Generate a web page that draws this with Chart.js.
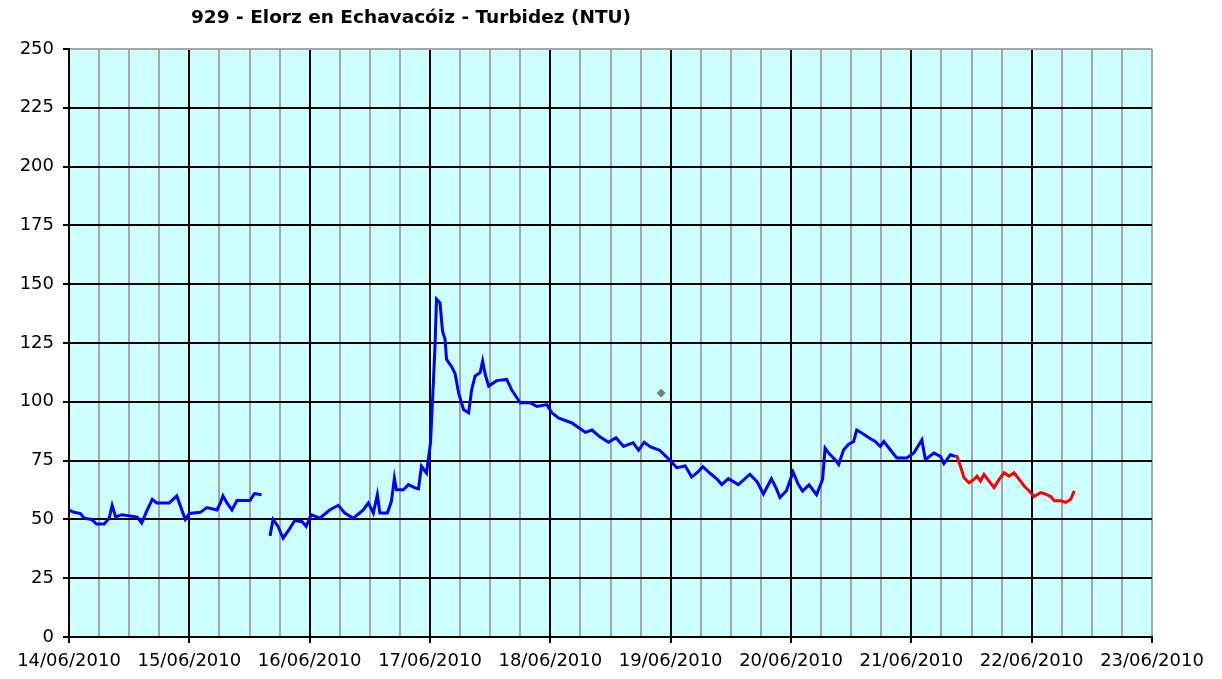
<!DOCTYPE html>
<html>
<head>
<meta charset="utf-8">
<script src="https://cdn.jsdelivr.net/npm/chart.js@4"></script>
<style>
    body { margin: 0; background: #fff; }
    #wrap { position: relative; width: 1222px; height: 679px; }
    #titulo {
        position: absolute; top: 6px; left: 411px; transform: translateX(-50%);
        font: bold 18.5px "DejaVu Sans", sans-serif; color: #000; white-space: nowrap;
    }
</style>
</head>
<body>
<div id="wrap">
    <div id="titulo">929 - Elorz en Echavacóiz - Turbidez (NTU)</div>
    <canvas id="grafico" width="1222" height="679"></canvas>
</div>
<script>
// Etiquetas de día (eje X en horas desde 14/06/2010 00:00)
const dayLabels = ['14/06/2010', '15/06/2010', '16/06/2010', '17/06/2010', '18/06/2010',
                   '19/06/2010', '20/06/2010', '21/06/2010', '22/06/2010', '23/06/2010'];

// Serie validada (azul)
const blueHours = [0, 1, 2.3, 3, 4.5, 5.5, 7, 8, 8.6, 9.3, 10.5, 12, 13.6, 14.5, 15.5, 16.6, 17.5, 20, 21.5, 22.5,
    23.2, 24, 26.2, 27.5, 29.5, 30.2, 30.7, 31.5, 32.5, 33.5, 36.1, 37, 38.4, 39,
    40.1, 40.7, 41.7, 42.7, 44, 45, 46.5, 47.3, 48.3, 50, 52, 53.7, 55, 56.7, 58.7, 59.7,
    60.7, 61.5, 62, 63.5, 64.3, 64.9, 65.3, 66.7, 67.7, 69, 69.7, 70.3, 71.3, 72.1, 72.7, 73, 73.3, 74, 74.5, 75,
    75.3, 76.3, 77, 77.7, 78.7, 79.7, 80.3, 81, 82, 82.5, 83, 83.7, 85.3, 87.3, 88.3, 90, 92, 93.3, 95.3, 96.3,
    97.7, 100.3, 103, 104.3, 105.8, 107.6, 109.1, 110.6, 112.5, 113.6, 114.7, 116, 117.8, 119.2, 121.2, 122.9,
    124.2, 125.5, 126.4, 127.9, 129.2, 130.2, 131.5, 133.5, 135.8, 137.3, 138.5, 140.1, 141.1, 141.8, 143.1,
    144.4, 145.4, 146.3, 147.6, 149.1, 150.3, 150.8, 151.5, 152.8, 153.5, 154.5, 155.5, 156.5, 157.1, 158.1,
    159.7, 160.8, 161.8, 162.5, 163.8, 165.1, 167.1, 168.5, 170.1, 170.8, 172.5, 173.8, 174.5, 175.8, 176.8];
const blueValues = [54, 53, 52.5, 50.5, 50, 48, 48, 50.5, 56, 51, 52, 51.5, 51, 48.5, 53.5, 58.5, 57, 57, 60, 54,
    50, 52.5, 53, 55, 54, 57, 60, 57, 54, 58, 58, 61, 60.5, null,
    43, 50, 47, 42, 46, 49.5, 49, 47, 52, 50.5, 54, 56, 52.7, 50.5, 54, 57,
    52.7, 60.5, 52.7, 52.7, 57.7, 67.6, 62.6, 62.6, 64.8, 63.4, 63, 72.6, 69.7, 82.5, 109.5, 123.7, 143.6, 142, 130, 126.6,
    118, 115, 112, 103.8, 96.6, 95.3, 105, 111, 112.4, 117.3, 111.7, 106.7, 109, 109.5, 105, 99.6, 99.6, 98, 98.8, 95.3,
    93, 91, 87, 88, 85.2, 82.8, 84.7, 81, 82.6, 79.4, 82.8, 80.8, 79.4, 76.5, 72, 72.7,
    68, 70.3, 72.4, 69.5, 67.3, 64.8, 67.3, 64.8, 69.2, 65.8, 60.8, 67.3, 63, 59.3, 62.2,
    70.2, 65.1, 62, 64.7, 60.5, 67, 80.3, 78.2, 75.4, 73.3, 79.6, 82, 83.1, 88, 86.7,
    84.5, 83.1, 81, 83.1, 79.6, 76.1, 76.1, 78.2, 83.8, 75.4, 78.2, 76.8, 73.7, 77.5, 76.8];

// Serie sin validar (rojo)
const redHours = [176.8, 177.1, 177.8, 178.5, 179.5, 180.5, 181.1, 181.8, 182.5, 183.5, 184.5, 185.5, 186.5,
    187.5, 188.5, 189.5, 190.5, 191.5, 192.5, 193.8, 194.8, 195.8, 196.5, 197.8, 198.8, 199.8, 200.5];
const redValues = [76.8, 76.8, 72.6, 67.7, 65.6, 67, 68.4, 66.3, 69.1, 66.3, 63.5, 67, 69.8,
    68.4, 69.8, 67, 64.2, 62.1, 59.7, 61.4, 60.7, 59.7, 57.9, 57.9, 57.2, 58.6, 62.1];

// Punto aislado (gris)
const outlierHours = [118.1];
const outlierValues = [103.7];

function toPoints(xs, ys) {
    return xs.map((x, i) => ({x: x, y: ys[i]}));
}

// fondo del área de trazado
const plotBackground = {
    id: 'plotBackground',
    beforeDraw(chart) {
        const a = chart.chartArea;
        const ctx = chart.ctx;
        ctx.save();
        ctx.fillStyle = '#CCFFFF';
        ctx.fillRect(a.left, a.top, a.right - a.left, a.bottom - a.top);
        ctx.restore();
    }
};

new Chart(document.getElementById('grafico'), {
    type: 'line',
    data: {
        datasets: [
            {
                data: toPoints(blueHours, blueValues),
                borderColor: '#0000FF',
                borderWidth: 3,
                pointRadius: 0,
                spanGaps: false,
                tension: 0
            },
            {
                data: toPoints(redHours, redValues),
                borderColor: '#FF0000',
                borderWidth: 3,
                pointRadius: 0,
                tension: 0
            },
            {
                data: toPoints(outlierHours, outlierValues),
                showLine: false,
                pointStyle: 'rectRot',
                pointRadius: 4,
                backgroundColor: '#808080',
                borderColor: '#808080'
            }
        ]
    },
    options: {
        responsive: false,
        animation: false,
        layout: {padding: {top: 49, right: 70, left: 0, bottom: 0}},
        plugins: {legend: {display: false}, tooltip: {enabled: false}, title: {display: false}},
        scales: {
            x: {
                type: 'linear',
                min: 0,
                max: 216,
                afterFit: s => { s.height = 42; },
                ticks: {
                    stepSize: 6,
                    autoSkip: false,
                    maxRotation: 0,
                    padding: 8,
                    color: '#000',
                    font: {family: 'DejaVu Sans', size: 18},
                    callback: v => (v % 24 === 0 ? dayLabels[v / 24] : '')
                },
                grid: {
                    color: c => (c.tick && c.tick.value % 24 === 0 && c.tick.value !== 216 ? '#000' : '#A6A6A6'),
                    tickColor: c => (c.tick && c.tick.value % 24 === 0 ? '#000' : 'rgba(0,0,0,0)'),
                    lineWidth: 2,
                    tickLength: 6
                },
                border: {color: '#000', width: 2}
            },
            y: {
                min: 0,
                max: 250,
                afterFit: s => { s.width = 69; },
                ticks: {
                    stepSize: 25,
                    padding: 9,
                    color: '#000',
                    font: {family: 'DejaVu Sans', size: 18}
                },
                grid: {
                    color: c => (c.tick && c.tick.value === 250 ? '#A6A6A6' : '#000'),
                    tickColor: '#000',
                    lineWidth: 2,
                    tickLength: 6
                },
                border: {color: '#000', width: 2}
            }
        }
    },
    plugins: [plotBackground]
});
</script>
</body>
</html>
